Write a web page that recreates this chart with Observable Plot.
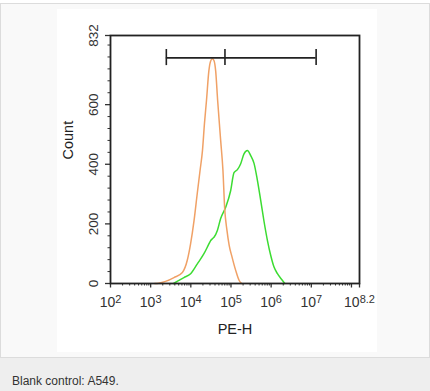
<!DOCTYPE html>
<html><head><meta charset="utf-8">
<script src="https://cdn.jsdelivr.net/npm/d3@7"></script>
<script src="https://cdn.jsdelivr.net/npm/@observablehq/plot@0.6"></script>
<style>
html,body{margin:0;padding:0;background:#fff;}
#page{position:relative;width:430px;height:391px;overflow:hidden;font-family:"Liberation Sans",Arial,sans-serif;}
#panel{position:absolute;left:0;top:3px;width:430px;height:355px;background:#f9f9f9;border:1px solid #dcdcdc;border-bottom:none;box-sizing:border-box;}
#img{position:absolute;left:57px;top:9px;width:320px;height:343px;background:#fff;}
#cap{position:absolute;left:0;top:357px;width:430px;height:34px;background:#eeeeee;border-top:1px solid #dcdcdc;box-sizing:border-box;}
#cap span{position:absolute;left:12px;top:16px;font-size:12px;line-height:14px;color:#333;white-space:nowrap;}
</style>
</head><body>
<div id="page">
  <div id="panel"></div>
  <div id="img"></div>
  <div id="cap"><span>Blank control: A549.</span></div>
</div>
<script>
// Histogram traces: log10(PE-H) and count
const orangeExp = [3.10, 3.20, 3.37, 3.58, 3.79, 3.91, 3.995, 4.08, 4.16, 4.23, 4.29, 4.34, 4.39, 4.45, 4.49, 4.536, 4.576, 4.618, 4.668, 4.743, 4.80, 4.843, 4.90, 4.955, 5.03, 5.117, 5.204, 5.267];
const orangeCount = [0, 1, 7, 20, 37, 77, 134, 211, 302, 379, 446, 537, 614, 714, 745, 754, 748, 714, 614, 480, 379, 252, 178, 128, 87, 44, 10, 0];

const greenExp = [3.571, 3.828, 3.995, 4.162, 4.327, 4.444, 4.494, 4.544, 4.581, 4.661, 4.743, 4.868, 4.993, 5.075, 5.160, 5.242, 5.324, 5.409, 5.491, 5.574, 5.658, 5.741, 5.823, 5.908, 5.990, 6.072, 6.157, 6.282, 6.339];
const greenCount = [0, 20, 33, 66, 100, 131, 144, 151, 156, 178, 218, 256, 312, 372, 382, 402, 435, 446, 429, 403, 346, 278, 208, 144, 94, 55, 33, 10, 0];

// Gate marker
const gateExp = [3.39, 4.85, 7.12];
const gateCount = 757;
const gateCapLo = 731;
const gateCapHi = 785;

// Axes
const yMajorTicks = [0, 200, 400, 600, 832];
const yMinorTicks = [40, 80, 120, 160, 240, 280, 320, 360, 440, 480, 520, 560, 640, 680, 720, 760, 800];
const xMajorExp = [2, 3, 4, 5, 6, 7, 8, 8.2];
const xLabelExp = [2, 3, 4, 5, 6, 7, 8.2];
const xLabelText = ["2", "3", "4", "5", "6", "7", "8.2"];
const xDomainExp = [2, 8.2];

const orangeRows = orangeExp.map((e, i) => ({pe: 10 ** e, count: orangeCount[i]}));
const greenRows = greenExp.map((e, i) => ({pe: 10 ** e, count: greenCount[i]}));
const gateVals = gateExp.map(e => 10 ** e);
const xMajorTicks = xMajorExp.map(e => 10 ** e);
const xLabelRows = xLabelExp.map((e, i) => ({pe: 10 ** e, label: xLabelText[i]}));
const xMinorTicks = [];
for (let k = 2; k <= 7; k++) for (let m = 2; m <= 9; m++) xMinorTicks.push(m * 10 ** k);

const plot = Plot.plot({
  width: 320, height: 343,
  marginLeft: 53, marginRight: 18, marginTop: 26, marginBottom: 69,
  style: {fontFamily: '"Liberation Sans", Arial, sans-serif', fontSize: "13.5px", background: "#fff", color: "#333", overflow: "visible"},
  x: {type: "log", domain: xDomainExp.map(e => 10 ** e), label: null},
  y: {domain: [0, 832], label: null},
  marks: [
    Plot.axisY(yMinorTicks, {tickSize: 2.5, tickFormat: () => "", strokeWidth: 1}),
    Plot.axisY(yMajorTicks, {tickSize: 5, tickRotate: -90, tickPadding: 8, strokeWidth: 1.3, tickFormat: d => String(d)}),
    Plot.axisX(xMinorTicks, {tickSize: 2.5, tickFormat: () => "", strokeWidth: 1}),
    Plot.axisX(xMajorTicks, {tickSize: 4.5, tickFormat: () => "", strokeWidth: 1.3}),
    Plot.text(xLabelRows, {x: "pe", text: "label", frameAnchor: "bottom", dy: 14, lineAnchor: "top", fontSize: 14, fill: "#333", className: "xlab"}),
    Plot.line(greenRows, {x: "pe", y: "count", stroke: "#3cdc32", strokeWidth: 1.5, curve: "monotone-x"}),
    Plot.line(orangeRows, {x: "pe", y: "count", stroke: "#f0a166", strokeWidth: 1.5, curve: "monotone-x"}),
    Plot.ruleY([gateCount], {x1: gateVals[0], x2: gateVals[2], stroke: "#222", strokeWidth: 1.6}),
    Plot.ruleX(gateVals, {y1: gateCapLo, y2: gateCapHi, stroke: "#222", strokeWidth: 1.6}),
    Plot.frame({stroke: "#222", strokeWidth: 1.8}),
    Plot.text(["Count"], {frameAnchor: "left", rotate: -90, dx: -38, lineAnchor: "bottom", fontSize: 14.5, fill: "#222"}),
    Plot.text(["PE-H"], {frameAnchor: "bottom", dy: 50, lineAnchor: "bottom", fontSize: 14.5, fill: "#222"})
  ]
});

// superscript exponents on x tick labels
d3.select(plot).selectAll('g.xlab text').each(function() {
  const t = d3.select(this);
  const exp = this.textContent;
  if (!exp) return;
  t.text(null);
  t.append("tspan").text("10");
  t.append("tspan").attr("font-size", 11).attr("dy", "-0.45em").text(exp);
});

plot.style.position = "absolute";
plot.style.left = "0px";
plot.style.top = "0px";
document.getElementById("img").appendChild(plot);
</script>
</body></html>
